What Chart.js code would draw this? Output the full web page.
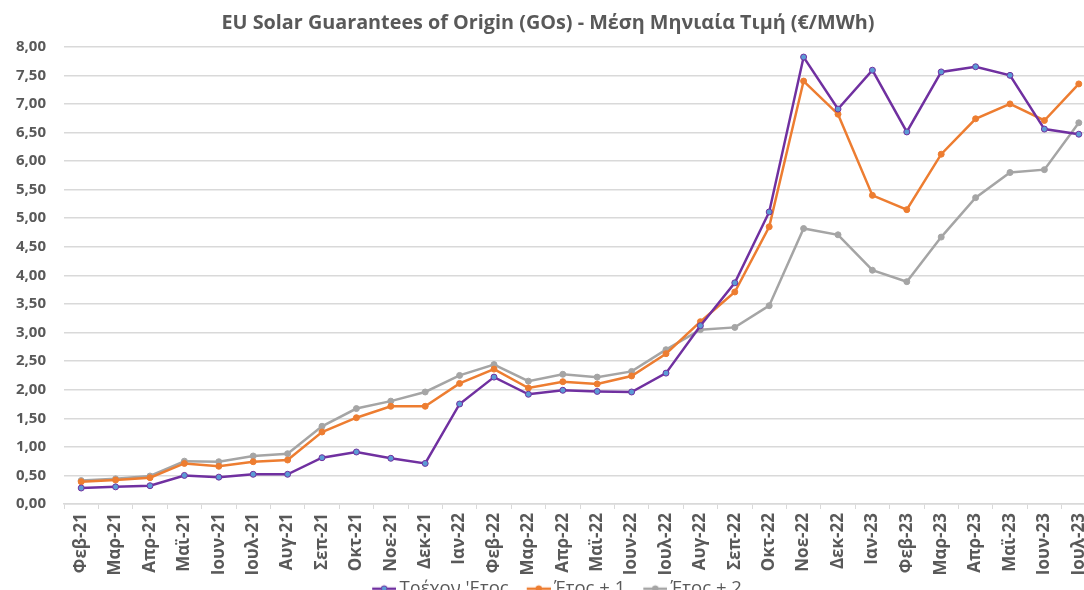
<!DOCTYPE html>
<html>
<head>
<meta charset="utf-8">
<script src="https://cdn.jsdelivr.net/npm/chart.js@4/dist/chart.umd.min.js"></script>
<style>
  html, body { margin: 0; padding: 0; background: #fff; overflow: hidden; }
  #wrap { width: 1110px; height: 608px; }
</style>
</head>
<body>
<div id="wrap"><canvas id="goChart" width="1110" height="608"></canvas></div>
<script>
const months = ['Φεβ-21', 'Μαρ-21', 'Απρ-21', 'Μαϊ-21', 'Ιουν-21', 'Ιουλ-21', 'Αυγ-21', 'Σεπ-21', 'Οκτ-21', 'Νοε-21',
    'Δεκ-21', 'Ιαν-22', 'Φεβ-22', 'Μαρ-22', 'Απρ-22', 'Μαϊ-22', 'Ιουν-22', 'Ιουλ-22', 'Αυγ-22', 'Σεπ-22',
    'Οκτ-22', 'Νοε-22', 'Δεκ-22', 'Ιαν-23', 'Φεβ-23', 'Μαρ-23', 'Απρ-23', 'Μαϊ-23', 'Ιουν-23', 'Ιουλ-23'];

const currentYear = [0.28, 0.30, 0.32, 0.50, 0.47, 0.52, 0.52, 0.81, 0.91, 0.80,
    0.71, 1.75, 2.22, 1.92, 1.99, 1.97, 1.96, 2.29, 3.12, 3.87,
    5.11, 7.82, 6.91, 7.59, 6.51, 7.56, 7.65, 7.50, 6.56, 6.47];

const yearPlus1 = [0.39, 0.42, 0.46, 0.71, 0.66, 0.74, 0.77, 1.26, 1.51, 1.71,
    1.71, 2.11, 2.36, 2.03, 2.14, 2.10, 2.24, 2.63, 3.19, 3.71,
    4.85, 7.40, 6.82, 5.40, 5.15, 6.12, 6.74, 7.00, 6.71, 7.35];

const yearPlus2 = [0.41, 0.44, 0.49, 0.75, 0.74, 0.84, 0.88, 1.36, 1.67, 1.80,
    1.96, 2.25, 2.44, 2.15, 2.27, 2.22, 2.32, 2.70, 3.05, 3.09,
    3.47, 4.82, 4.71, 4.09, 3.89, 4.67, 5.36, 5.80, 5.85, 6.67];

const txtColor = '#595959';
const gridColor = '#d9d9d9';

// legend marker: 24px line with a dot, sitting at the right edge of a wider transparent canvas
// (the empty left part gives the gap between legend entries)
function legendIcon(lineColor, dotColor) {
    const c = document.createElement('canvas');
    c.width = 48; c.height = 10;
    const g = c.getContext('2d');
    g.strokeStyle = lineColor;
    g.lineWidth = 2.5;
    g.beginPath(); g.moveTo(24, 5); g.lineTo(48, 5); g.stroke();
    g.fillStyle = dotColor;
    g.beginPath(); g.arc(36, 5, 3, 0, Math.PI * 2); g.fill();
    g.lineWidth = 1; g.strokeStyle = lineColor; g.stroke();
    return c;
}

function series(label, data, line, dot) {
    return {
        label: label,
        data: data,
        borderColor: line,
        backgroundColor: dot,
        borderWidth: 2.5,
        pointRadius: 3,
        pointBorderWidth: 1,
        pointBorderColor: line,
        pointBackgroundColor: dot,
        pointStyle: 'circle',
        legendIcon: legendIcon(line, dot),
        tension: 0
    };
}

const ctx = document.getElementById('goChart');
const chart = new Chart(ctx.getContext('2d'), {
    type: 'line',
    data: {
        labels: months,
        datasets: [
            series("Τρέχον 'Ετος", currentYear, '#7030A0', '#5B9BD5'),
            series('Έτος + 1', yearPlus1, '#ED7D31', '#ED7D31'),
            series('Έτος + 2', yearPlus2, '#A5A5A5', '#A5A5A5')
        ]
    },
    options: {
        responsive: false,
        animation: false,
        layout: { padding: { left: 0, right: 14, top: 0, bottom: 0 } },
        plugins: {
            title: {
                display: true,
                text: 'EU Solar Guarantees of Origin (GOs) - Μέση Μηνιαία Τιμή (€/MWh)',
                color: txtColor,
                font: { family: 'Open Sans', size: 19.8, weight: 'bold' },
                padding: { top: 11, bottom: 12 }
            },
            legend: {
                position: 'bottom',
                labels: {
                    usePointStyle: true,
                    pointStyleWidth: 36,
                    color: txtColor,
                    font: { family: 'Open Sans', size: 18.5 },
                    padding: 0,
                    generateLabels: function(chart) {
                        const items = Chart.defaults.plugins.legend.labels.generateLabels(chart);
                        items.forEach(it => {
                            it.pointStyle = chart.data.datasets[it.datasetIndex].legendIcon;
                        });
                        return items;
                    }
                }
            },
            tooltip: { enabled: false }
        },
        scales: {
            y: {
                min: 0,
                max: 8,
                ticks: {
                    stepSize: 0.5,
                    color: txtColor,
                    padding: 18,
                    font: { family: 'Open Sans', size: 15, weight: 'bold' },
                    callback: v => v.toFixed(2).replace('.', ',')
                },
                grid: { color: gridColor, lineWidth: 1.5, drawTicks: false },
                border: { display: false },
                afterFit: s => { s.width = 64; }
            },
            x: {
                offset: true,
                ticks: {
                    color: txtColor,
                    minRotation: 90,
                    maxRotation: 90,
                    autoSkip: false,
                    padding: 4,
                    font: { family: 'Open Sans', size: 17, weight: 'bold' }
                },
                grid: { offset: true, drawOnChartArea: false, color: gridColor, tickLength: 5 },
                border: { color: gridColor, width: 1.5 }
            }
        }
    }
});
</script>
</body>
</html>
